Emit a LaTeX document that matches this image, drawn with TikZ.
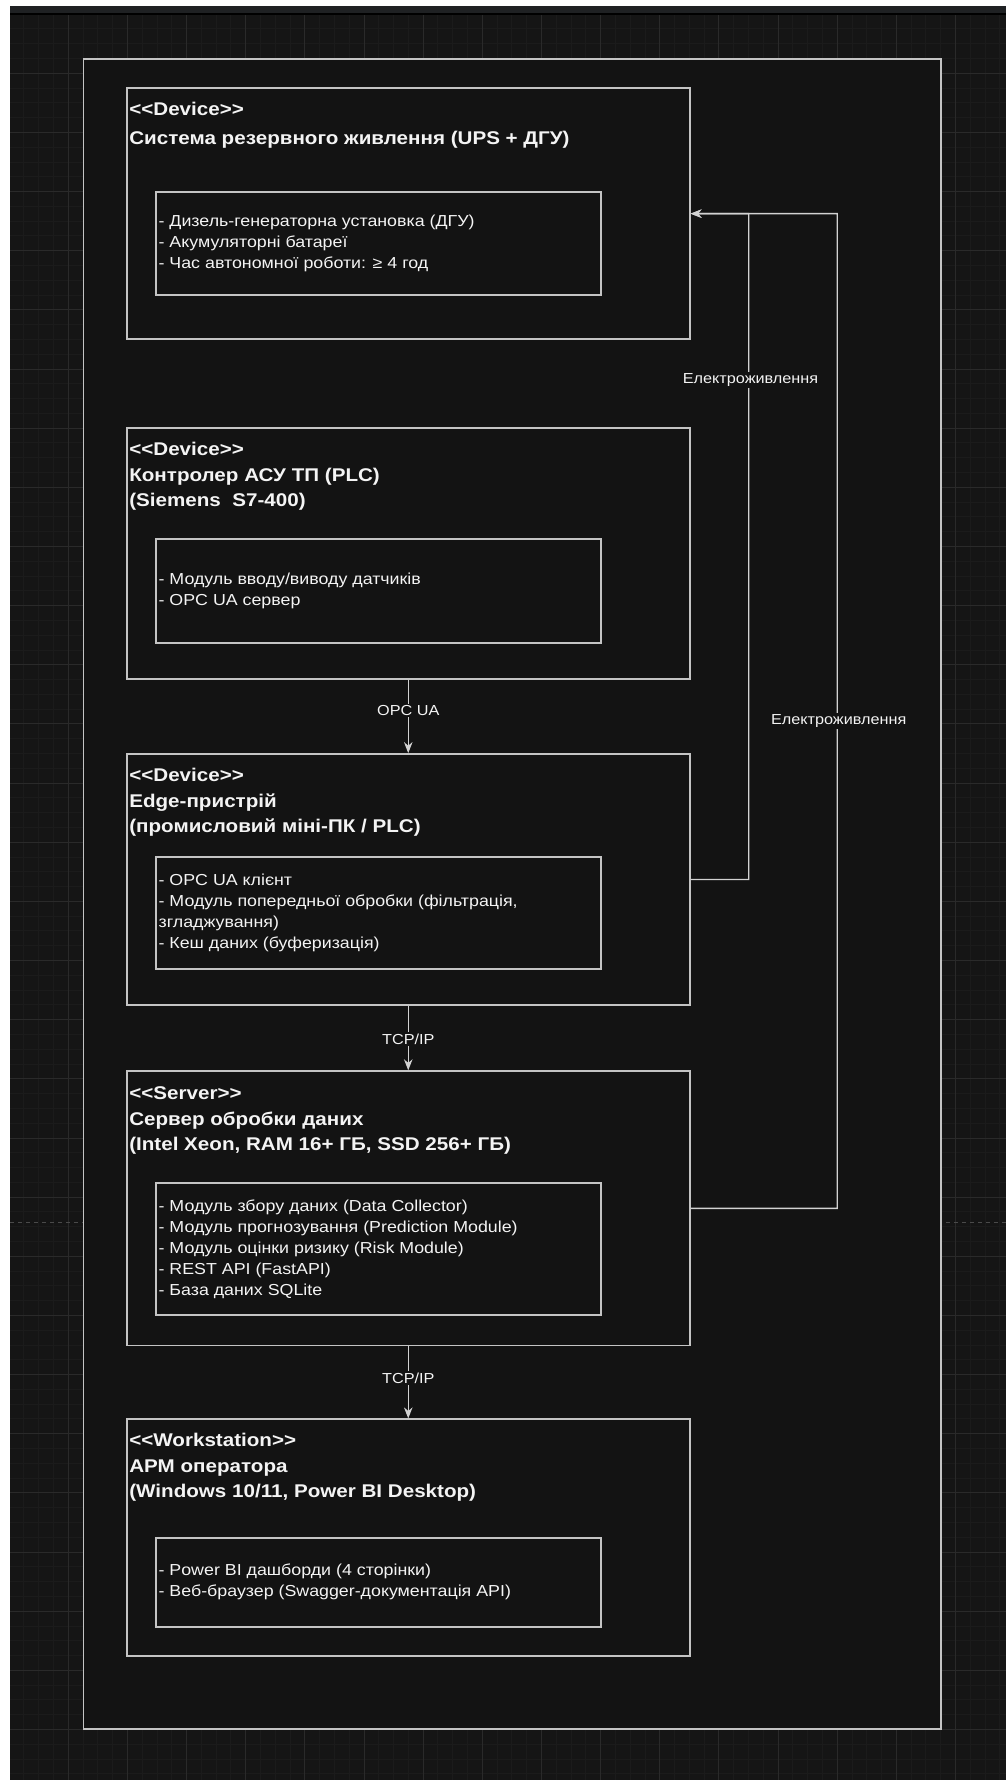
\documentclass[tikz,border=0pt]{standalone}
\usepackage{fontspec}
\setmainfont{Liberation Sans}[FakeStretch=1.12]
\usetikzlibrary{arrows.meta,calc}
\definecolor{bgc}{HTML}{151515}
\definecolor{minorc}{HTML}{1B1B1B}
\definecolor{majorc}{HTML}{2A2A2A}
\definecolor{framefill}{HTML}{131313}
\definecolor{strokec}{HTML}{C4C4C4}
\definecolor{linec}{HTML}{D2D2D2}
\definecolor{textc}{HTML}{F4F4F4}
\definecolor{bandc}{HTML}{1F2123}
\definecolor{dashc}{HTML}{4A4A4A}
\begin{document}
\begin{tikzpicture}[x=1pt,y=-1pt,
  box/.style={draw=strokec, line width=1.8pt, inner sep=0pt, minimum width=562.9pt},
  inbox/.style={draw=strokec, line width=1.8pt, inner sep=0pt, minimum width=445pt},
  ttl/.style={anchor=north west, inner sep=0pt, align=left, text=textc, font=\fontsize{18.4}{25.5}\selectfont\bfseries},
  itxt/.style={anchor=west, inner sep=0pt, align=left, text=textc, font=\fontsize{15.9}{21}\selectfont},
  conn/.style={draw=linec, line width=1.3pt},
  arr/.style={conn, -{Stealth[length=11pt,width=8.5pt]}},
  elabel/.style={fill=framefill, inner sep=1.5pt, text=textc, font=\fontsize{14.5}{17}\selectfont}
]
\useasboundingbox (0,0) rectangle (1006,1780);
\fill[bgc] (0,0) rectangle (1006,1780);
% grid
\foreach \i in {0,...,67} \draw[minorc, line width=1pt] ({9.15+\i*14.7875},14) -- ({9.15+\i*14.7875},1780);
\foreach \j in {0,...,119} \draw[minorc, line width=1pt] (0,{14.15+\j*14.7875}) -- (1006,{14.15+\j*14.7875});
\foreach \i in {0,...,16} \draw[majorc, line width=1pt] ({9.15+\i*59.15},14) -- ({9.15+\i*59.15},1780);
\foreach \j in {0,...,29} \draw[majorc, line width=1pt] (0,{14.15+\j*59.15}) -- (1006,{14.15+\j*59.15});
\draw[dashc, line width=1pt, dash pattern=on 4pt off 4pt] (10,1222.7) -- (1006,1222.7);
% top band and white margins
\fill[bandc] (0,6) rectangle (1006,13);
\fill[black] (0,13) rectangle (1006,14.5);
\fill[white] (0,0) rectangle (1006,6);
\fill[white] (0,0) rectangle (10,1780);

% outer frame
\node[draw=strokec, line width=1.8pt, fill=framefill, inner sep=0pt, minimum width=857.8pt, minimum height=1670pt] (frame) at (512.3,894.3) {};

% device boxes
\node[box, minimum height=250.7pt] (ups) at (408.25,213.65) {};
\node[box, minimum height=251pt] (plc) at (408.25,553.8) {};
\node[box, minimum height=251pt] (edge) at (408.25,879.5) {};
\node[box, minimum height=274.3pt] (srv) at (408.25,1208.35) {};
\node[box, minimum height=236.7pt] (ws) at (408.25,1537.65) {};

% inner boxes
\node[inbox, minimum height=103.3pt] (upsi) at (378.8,243.35) {};
\node[inbox, minimum height=104pt] (plci) at (378.8,591.3) {};
\node[inbox, minimum height=111.4pt] (edgei) at (378.8,913) {};
\node[inbox, minimum height=132.3pt] (srvi) at (378.8,1248.85) {};
\node[inbox, minimum height=89pt] (wsi) at (378.8,1582.2) {};

% titles
\node[ttl] (upst) at ($(ups.north west)+(3.2,15)$) {<{}<Device>{}>\\[3pt]Система резервного живлення (UPS + ДГУ)};
\node[ttl] (plct) at ($(plc.north west)+(3.2,15)$) {<{}<Device>{}>\\Контролер АСУ ТП (PLC)\\(Siemens~ S7-400)};
\node[ttl] (edget) at ($(edge.north west)+(3.2,15)$) {<{}<Device>{}>\\Edge-пристрій\\(промисловий міні-ПК / PLC)};
\node[ttl] (srvt) at ($(srv.north west)+(3.2,16.5)$) {<{}<Server>{}>\\Сервер обробки даних\\(Intel Xeon, RAM 16+ ГБ, SSD 256+ ГБ)};
\node[ttl] (wst) at ($(ws.north west)+(3.2,15)$) {<{}<Workstation>{}>\\АРМ оператора\\(Windows 10/11, Power BI Desktop)};

% inner texts
\node[itxt] (upsx) at ($(upsi.west)+(3,0)$) {- Дизель-генераторна установка (ДГУ)\\- Акумуляторні батареї\\- Час автономної роботи: ≥ 4 год};
\node[itxt] (plcx) at ($(plci.west)+(3,0)$) {- Модуль вводу/виводу датчиків\\- OPC UA сервер};
\node[itxt] (edgex) at ($(edgei.west)+(3,0)$) {- OPC UA клієнт\\- Модуль попередньої обробки (фільтрація,\\згладжування)\\- Кеш даних (буферизація)};
\node[itxt] (srvx) at ($(srvi.west)+(3,0)$) {- Модуль збору даних (Data Collector)\\- Модуль прогнозування (Prediction Module)\\- Модуль оцінки ризику (Risk Module)\\- REST API (FastAPI)\\- База даних SQLite};
\node[itxt] (wsx) at ($(wsi.west)+(3,0)$) {- Power BI дашборди (4 сторінки)\\- Веб-браузер (Swagger-документація API)};

% power connectors
\coordinate (pw1) at (748.7,213.6);
\coordinate (pw2) at (837.3,213.6);
\draw[arr] (srv.east) -| (pw2) -- (ups.east);
\draw[arr] (edge.east) -| (pw1) -- (ups.east);
\node[elabel] (pl1) at (750.5,380) {Електроживлення};
\node[elabel] (pl2) at (838.7,721.4) {Електроживлення};

% data connectors
\draw[arr] (plc.south) -- (edge.north);
\node[elabel] (lb1) at (408.3,710.7) {OPC UA};
\draw[arr] (edge.south) -- (srv.north);
\node[elabel] (lb2) at (408.3,1039) {TCP/IP};
\draw[arr] (srv.south) -- (ws.north);
\node[elabel] (lb3) at (408.3,1378) {TCP/IP};
\end{tikzpicture}
\end{document}
